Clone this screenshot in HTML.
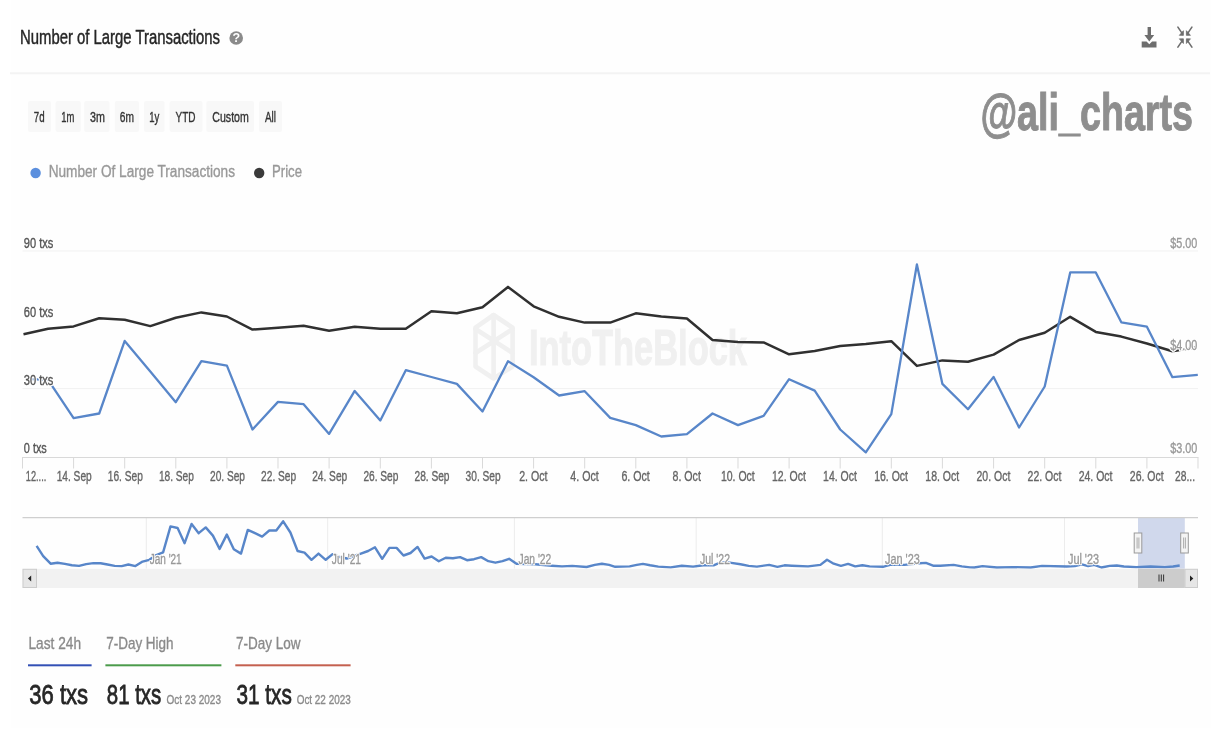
<!DOCTYPE html>
<html lang="en"><head><meta charset="utf-8"><title>Number of Large Transactions</title>
<style>
html,body{margin:0;padding:0;background:#ffffff;}
body{width:1220px;height:740px;overflow:hidden;position:relative;font-family:"Liberation Sans",sans-serif;}
svg{position:absolute;left:0;top:0;display:block}
svg text{font-family:"Liberation Sans",sans-serif;white-space:pre}
</style></head><body>
<svg width="1220" height="740" viewBox="0 0 1220 740">
<rect x="11" y="0" width="1200" height="728" fill="#fefefe"/>
<g id="header">
<rect x="10" y="72.300" width="1200" height="2" fill="#f3f3f3"/>
<circle cx="236.2" cy="38" r="6.8" fill="#8a8a8a"/>
</g>
<g id="icons" fill="#6e6e6e" stroke="none">
<path d="M1147.6 27h3.4v8h3.2l-4.9 6.6-4.9-6.600h3.200z"/>
<path d="M1141.700 41.400h4.800l2.800 2.800 2.800-2.800h4.400v6h-14.800z"/>
</g>
<g id="compress" stroke="#6e6e6e" stroke-width="1.6" fill="#6e6e6e" stroke-linecap="round">
<path d="M1177.90 27.10L1182.30 33.60" fill="none"/>
<path d="M1183.40 35.10L1183.40 30.70L1179.60 35.10Z" stroke-width="0.8" stroke-linejoin="round"/>
<path d="M1191.90 27.10L1187.50 33.60" fill="none"/>
<path d="M1186.40 35.10L1186.40 30.70L1190.20 35.10Z" stroke-width="0.8" stroke-linejoin="round"/>
<path d="M1177.90 47.10L1182.30 40.60" fill="none"/>
<path d="M1183.40 39.10L1183.40 43.50L1179.60 39.10Z" stroke-width="0.8" stroke-linejoin="round"/>
<path d="M1191.90 47.10L1187.50 40.60" fill="none"/>
<path d="M1186.40 39.10L1186.40 43.50L1190.20 39.10Z" stroke-width="0.8" stroke-linejoin="round"/>
</g>
<g id="ranges" fill="#f8f8f8">
<rect x="28" y="101" width="23.0" height="31" rx="2"/>
<rect x="55.6" y="101" width="25.2" height="31" rx="2"/>
<rect x="84.2" y="101" width="25.3" height="31" rx="2"/>
<rect x="114.8" y="101" width="24.2" height="31" rx="2"/>
<rect x="144" y="101" width="20.6" height="31" rx="2"/>
<rect x="169.6" y="101" width="32.9" height="31" rx="2"/>
<rect x="206.3" y="101" width="47.7" height="31" rx="2"/>
<rect x="259" y="101" width="23.0" height="31" rx="2"/>
</g>
<g id="legend"><circle cx="35.6" cy="173" r="5.2" fill="#5b8fde"/><circle cx="259.2" cy="173" r="5.2" fill="#3a3a3a"/></g>
<g id="grid" stroke="#f1f1f1" stroke-width="1">
<path d="M22.5 251.0H1198"/>
<path d="M22.5 388.6H1198"/>
</g>
<g id="itb" fill="none" stroke="#f0f0f0" stroke-width="4.6" stroke-linejoin="round" stroke-linecap="round">
<path d="M493.600 315L512.600 327.600V366.500L493.600 378.500L475.500 366.500V327.600Z"/>
<path d="M493.600 315V376M475.500 329L512.600 353M512.600 329L475.500 353"/>
</g>
<text x="529" y="365" font-size="50" fill="#f0f0f0" text-anchor="start" font-weight="700" textLength="218" lengthAdjust="spacingAndGlyphs" stroke="#f0f0f0" stroke-width="1.2">IntoTheBlock</text>
<g id="xaxis" stroke="#d9d9d9" stroke-width="1" fill="none">
<path d="M22 457.500H1198.500"/>
<path d="M22.5 457.500V468.500"/>
<path d="M73.6 457.500V468.500"/>
<path d="M124.7 457.500V468.500"/>
<path d="M175.8 457.500V468.500"/>
<path d="M226.9 457.500V468.500"/>
<path d="M278.0 457.500V468.500"/>
<path d="M329.1 457.500V468.500"/>
<path d="M380.3 457.500V468.500"/>
<path d="M431.4 457.500V468.500"/>
<path d="M482.5 457.500V468.500"/>
<path d="M533.6 457.500V468.500"/>
<path d="M584.7 457.500V468.500"/>
<path d="M635.8 457.500V468.500"/>
<path d="M686.9 457.500V468.500"/>
<path d="M738.0 457.500V468.500"/>
<path d="M789.1 457.500V468.500"/>
<path d="M840.2 457.500V468.500"/>
<path d="M891.3 457.500V468.500"/>
<path d="M942.4 457.500V468.500"/>
<path d="M993.6 457.500V468.500"/>
<path d="M1044.7 457.500V468.500"/>
<path d="M1095.8 457.500V468.500"/>
<path d="M1146.9 457.500V468.500"/>
<path d="M1198.0 457.500V468.500"/>
</g>
<path id="price" d="M23.5 334.2 L48.1 328.7 L73.6 326.4 L99.2 318.3 L124.7 319.7 L150.3 326.1 L175.8 317.7 L201.4 312.4 L226.9 316.5 L252.5 329.6 L278.0 327.8 L303.6 325.8 L329.1 330.7 L354.7 326.7 L380.3 328.7 L405.8 328.7 L431.4 311.3 L456.9 313.3 L482.5 307.2 L508.0 286.9 L533.6 306.3 L559.1 316.8 L584.7 322.6 L610.2 322.6 L635.8 313.3 L661.3 316.5 L686.9 318.5 L712.5 340.0 L738.0 342.1 L763.6 342.4 L789.1 354.3 L814.7 351.1 L840.2 346.1 L865.8 344.1 L891.3 341.2 L916.9 365.9 L942.4 360.4 L968.0 361.8 L993.6 354.6 L1019.1 340.0 L1044.7 332.8 L1070.2 316.8 L1095.8 331.9 L1121.3 336.6 L1146.9 343.5 L1172.4 351.3 L1195.0 347.5" fill="none" stroke="#303030" stroke-width="2.5" stroke-linejoin="round" stroke-linecap="butt"/>
<path id="txs" d="M25.5 378.8 L48.1 379.8 L73.6 418.2 L99.2 413.5 L124.7 340.9 L150.3 371.4 L175.8 402.2 L201.4 361.2 L226.9 365.6 L252.5 429.5 L278.0 401.9 L303.6 404.2 L329.1 433.9 L354.7 390.9 L380.3 420.5 L405.8 370.2 L431.4 377.0 L456.9 383.9 L482.5 411.5 L508.0 361.2 L533.6 377.2 L559.1 395.5 L584.7 391.2 L610.2 417.9 L635.8 425.1 L661.3 436.5 L686.9 434.1 L712.5 413.5 L738.0 425.1 L763.6 415.8 L789.1 379.2 L814.7 390.6 L840.2 429.5 L865.8 452.4 L891.3 414.1 L916.9 264.5 L942.4 383.9 L968.0 409.2 L993.6 376.9 L1019.1 427.5 L1044.7 386.5 L1070.2 272.4 L1095.8 272.4 L1121.3 322.3 L1146.9 326.7 L1172.4 377.2 L1197.8 374.9" fill="none" stroke="#5886c9" stroke-width="2.3" stroke-linejoin="round" stroke-linecap="butt"/>
<g id="navigator">
<rect x="1138" y="517.500" width="46.800" height="51.300" fill="#d0d8ec"/>
<g stroke="#ececec" stroke-width="1">
<path d="M146.3 518V568.500"/>
<path d="M327.7 518V568.500"/>
<path d="M514.4 518V568.500"/>
<path d="M696.2 518V568.500"/>
<path d="M882.3 518V568.500"/>
<path d="M1064.5 518V568.500"/>
</g>
<path d="M22.500 517.600H1198" stroke="#cfcfcf" stroke-width="1.2"/>
<path d="M36.6 545.9 L43.2 556.1 L50.6 563.7 L57.5 562.7 L64.9 563.9 L71.9 565.3 L79.1 565.9 L86.2 564.1 L93.4 563.1 L100.6 563.3 L107.5 564.5 L114.7 565.9 L121.7 566.1 L128.4 564.5 L135.4 566.1 L142.6 561.6 L149.3 559.8 L156.3 555.1 L163.1 552.4 L170.5 526.4 L177.6 528.0 L184.6 543.2 L191.6 523.9 L198.7 533.2 L205.7 527.4 L212.9 535.6 L219.6 548.9 L226.8 534.6 L233.8 549.3 L241.0 553.6 L247.8 529.9 L255.0 533.2 L262.1 536.6 L269.3 530.5 L276.3 530.5 L283.2 521.3 L290.4 532.5 L297.6 551.0 L304.5 552.6 L311.5 559.8 L318.5 553.6 L325.7 559.8 L332.6 554.1 L339.7 557.0 L346.8 558.5 L353.9 556.0 L360.9 553.6 L368.1 551.0 L375.0 547.3 L382.2 558.8 L389.4 547.9 L396.6 547.9 L403.5 555.5 L410.5 553.0 L417.5 546.9 L424.6 558.6 L431.6 556.5 L438.8 561.2 L445.7 557.7 L452.9 558.2 L460.1 557.1 L467.0 560.2 L474.0 559.2 L481.2 557.1 L488.4 561.2 L495.4 562.7 L502.5 561.2 L509.1 558.8 L516.5 563.7 L526.1 564.1 L535.3 564.3 L551.7 565.7 L562.0 566.4 L572.2 565.9 L586.6 567.0 L594.8 564.9 L601.9 563.7 L609.1 564.9 L615.2 566.8 L629.6 566.4 L636.8 564.9 L642.9 563.9 L650.1 565.3 L658.3 566.6 L670.6 567.4 L681.8 565.7 L693.1 566.6 L703.4 565.3 L713.6 565.3 L717.7 563.7 L725.9 562.0 L731.3 562.9 L740.5 564.3 L748.7 565.9 L756.9 566.6 L769.2 564.9 L777.4 566.8 L784.5 565.3 L791.7 565.7 L808.1 566.4 L820.4 564.9 L827.0 559.8 L833.7 563.7 L840.9 565.9 L848.1 563.9 L855.2 566.4 L862.4 565.3 L869.6 566.4 L882.9 566.8 L890.1 564.9 L904.4 564.9 L919.8 563.3 L925.9 562.9 L933.1 565.7 L940.3 565.7 L953.6 564.9 L961.8 566.4 L970.0 567.4 L974.3 567.5 L982.5 566.1 L996.9 567.5 L1013.3 567.1 L1030.7 567.5 L1042.0 565.9 L1066.6 566.5 L1074.8 566.1 L1081.9 564.4 L1088.1 566.1 L1094.2 564.8 L1101.4 567.5 L1109.6 565.9 L1116.8 565.5 L1123.9 566.5 L1136.2 567.1 L1150.6 566.5 L1164.9 567.1 L1173.1 566.5 L1179.7 565.5" fill="none" stroke="#5886c9" stroke-width="2.4" stroke-linejoin="round"/>
<rect x="22.500" y="568.800" width="1175.500" height="19.200" fill="#f2f2f2"/>
<rect x="23" y="569.300" width="13.500" height="18.200" fill="#e6e6e6" stroke="#ccc" stroke-width="1"/>
<path d="M31.200 575.400V581.600L27.900 578.500Z" fill="#222"/>
<rect x="1138" y="568.800" width="46.800" height="19.200" fill="#cccccc"/>
<path d="M1159 574.500V581.500M1161.300 574.500V581.500M1163.600 574.500V581.500" stroke="#333" stroke-width="1"/>
<rect x="1185" y="569.300" width="12.500" height="18.200" fill="#e6e6e6" stroke="#ccc" stroke-width="1"/>
<path d="M1190 575.400V581.600L1193.300 578.500Z" fill="#222"/>
<rect x="1134.2" y="533" width="7.600" height="20" fill="#f4f4f4" stroke="#999" stroke-width="1"/>
<path d="M1137.1 537.500V548.500M1138.9 537.500V548.500" stroke="#999" stroke-width="0.8"/>
<rect x="1180.7" y="533" width="7.600" height="20" fill="#f4f4f4" stroke="#999" stroke-width="1"/>
<path d="M1183.6 537.500V548.500M1185.4 537.500V548.500" stroke="#999" stroke-width="0.8"/>
</g>
<g id="stats">
<rect x="28" y="664.300" width="63.600" height="2" fill="#3350b5"/>
<rect x="105.400" y="664.300" width="116" height="2" fill="#4b9b4b"/>
<rect x="235.300" y="664.300" width="115.300" height="2" fill="#c4604f"/>
</g>
<text x="20" y="43.8" font-size="19.5" fill="#262626" text-anchor="start" font-weight="400" textLength="200" lengthAdjust="spacingAndGlyphs" stroke="#262626" stroke-width="0.45">Number of Large Transactions</text>
<text x="236.2" y="42.4" font-size="12.5" fill="#fff" text-anchor="middle" font-weight="700">?</text>
<text x="980.4" y="129.5" font-size="52" fill="#8e8e8e" text-anchor="start" font-weight="700" textLength="212.6" lengthAdjust="spacingAndGlyphs" stroke="#8e8e8e" stroke-width="1.0">@ali_charts</text>
<text x="33.8" y="122.1" font-size="14" fill="#333" text-anchor="start" font-weight="400" textLength="10.8" lengthAdjust="spacingAndGlyphs" stroke="#333" stroke-width="0.35">7d</text>
<text x="61.3" y="122.1" font-size="14" fill="#333" text-anchor="start" font-weight="400" textLength="13.1" lengthAdjust="spacingAndGlyphs" stroke="#333" stroke-width="0.35">1m</text>
<text x="90" y="122.1" font-size="14" fill="#333" text-anchor="start" font-weight="400" textLength="14.9" lengthAdjust="spacingAndGlyphs" stroke="#333" stroke-width="0.35">3m</text>
<text x="119.8" y="122.1" font-size="14" fill="#333" text-anchor="start" font-weight="400" textLength="14.2" lengthAdjust="spacingAndGlyphs" stroke="#333" stroke-width="0.35">6m</text>
<text x="149.2" y="122.1" font-size="14" fill="#333" text-anchor="start" font-weight="400" textLength="10.1" lengthAdjust="spacingAndGlyphs" stroke="#333" stroke-width="0.35">1y</text>
<text x="175.6" y="122.1" font-size="14" fill="#333" text-anchor="start" font-weight="400" textLength="20.0" lengthAdjust="spacingAndGlyphs" stroke="#333" stroke-width="0.35">YTD</text>
<text x="212.3" y="122.1" font-size="14" fill="#333" text-anchor="start" font-weight="400" textLength="36.5" lengthAdjust="spacingAndGlyphs" stroke="#333" stroke-width="0.35">Custom</text>
<text x="264.9" y="122.1" font-size="14" fill="#333" text-anchor="start" font-weight="400" textLength="11.0" lengthAdjust="spacingAndGlyphs" stroke="#333" stroke-width="0.35">All</text>
<text x="48.7" y="177.2" font-size="16" fill="#999" text-anchor="start" font-weight="400" textLength="186.3" lengthAdjust="spacingAndGlyphs" stroke="#999" stroke-width="0.35">Number Of Large Transactions</text>
<text x="272" y="177.2" font-size="16" fill="#999" text-anchor="start" font-weight="400" textLength="30" lengthAdjust="spacingAndGlyphs" stroke="#999" stroke-width="0.35">Price</text>
<text x="25.8" y="481.3" font-size="14" fill="#666" text-anchor="start" font-weight="400" textLength="20.5" lengthAdjust="spacingAndGlyphs" stroke="#666" stroke-width="0.35">12....</text>
<text x="74.2" y="481.3" font-size="14" fill="#666" text-anchor="middle" font-weight="400" textLength="35" lengthAdjust="spacingAndGlyphs" stroke="#666" stroke-width="0.35">14. Sep</text>
<text x="125.3" y="481.3" font-size="14" fill="#666" text-anchor="middle" font-weight="400" textLength="35" lengthAdjust="spacingAndGlyphs" stroke="#666" stroke-width="0.35">16. Sep</text>
<text x="176.4" y="481.3" font-size="14" fill="#666" text-anchor="middle" font-weight="400" textLength="35" lengthAdjust="spacingAndGlyphs" stroke="#666" stroke-width="0.35">18. Sep</text>
<text x="227.5" y="481.3" font-size="14" fill="#666" text-anchor="middle" font-weight="400" textLength="35" lengthAdjust="spacingAndGlyphs" stroke="#666" stroke-width="0.35">20. Sep</text>
<text x="278.6" y="481.3" font-size="14" fill="#666" text-anchor="middle" font-weight="400" textLength="35" lengthAdjust="spacingAndGlyphs" stroke="#666" stroke-width="0.35">22. Sep</text>
<text x="329.7" y="481.3" font-size="14" fill="#666" text-anchor="middle" font-weight="400" textLength="35" lengthAdjust="spacingAndGlyphs" stroke="#666" stroke-width="0.35">24. Sep</text>
<text x="380.9" y="481.3" font-size="14" fill="#666" text-anchor="middle" font-weight="400" textLength="35" lengthAdjust="spacingAndGlyphs" stroke="#666" stroke-width="0.35">26. Sep</text>
<text x="432.0" y="481.3" font-size="14" fill="#666" text-anchor="middle" font-weight="400" textLength="35" lengthAdjust="spacingAndGlyphs" stroke="#666" stroke-width="0.35">28. Sep</text>
<text x="483.1" y="481.3" font-size="14" fill="#666" text-anchor="middle" font-weight="400" textLength="35" lengthAdjust="spacingAndGlyphs" stroke="#666" stroke-width="0.35">30. Sep</text>
<text x="533.4" y="481.3" font-size="14" fill="#666" text-anchor="middle" font-weight="400" textLength="28.4" lengthAdjust="spacingAndGlyphs" stroke="#666" stroke-width="0.35">2. Oct</text>
<text x="584.5" y="481.3" font-size="14" fill="#666" text-anchor="middle" font-weight="400" textLength="28.4" lengthAdjust="spacingAndGlyphs" stroke="#666" stroke-width="0.35">4. Oct</text>
<text x="635.6" y="481.3" font-size="14" fill="#666" text-anchor="middle" font-weight="400" textLength="28.4" lengthAdjust="spacingAndGlyphs" stroke="#666" stroke-width="0.35">6. Oct</text>
<text x="686.7" y="481.3" font-size="14" fill="#666" text-anchor="middle" font-weight="400" textLength="28.4" lengthAdjust="spacingAndGlyphs" stroke="#666" stroke-width="0.35">8. Oct</text>
<text x="737.8" y="481.3" font-size="14" fill="#666" text-anchor="middle" font-weight="400" textLength="33.8" lengthAdjust="spacingAndGlyphs" stroke="#666" stroke-width="0.35">10. Oct</text>
<text x="788.9" y="481.3" font-size="14" fill="#666" text-anchor="middle" font-weight="400" textLength="33.8" lengthAdjust="spacingAndGlyphs" stroke="#666" stroke-width="0.35">12. Oct</text>
<text x="840.0" y="481.3" font-size="14" fill="#666" text-anchor="middle" font-weight="400" textLength="33.8" lengthAdjust="spacingAndGlyphs" stroke="#666" stroke-width="0.35">14. Oct</text>
<text x="891.1" y="481.3" font-size="14" fill="#666" text-anchor="middle" font-weight="400" textLength="33.8" lengthAdjust="spacingAndGlyphs" stroke="#666" stroke-width="0.35">16. Oct</text>
<text x="942.2" y="481.3" font-size="14" fill="#666" text-anchor="middle" font-weight="400" textLength="33.8" lengthAdjust="spacingAndGlyphs" stroke="#666" stroke-width="0.35">18. Oct</text>
<text x="993.4" y="481.3" font-size="14" fill="#666" text-anchor="middle" font-weight="400" textLength="33.8" lengthAdjust="spacingAndGlyphs" stroke="#666" stroke-width="0.35">20. Oct</text>
<text x="1044.5" y="481.3" font-size="14" fill="#666" text-anchor="middle" font-weight="400" textLength="33.8" lengthAdjust="spacingAndGlyphs" stroke="#666" stroke-width="0.35">22. Oct</text>
<text x="1095.6" y="481.3" font-size="14" fill="#666" text-anchor="middle" font-weight="400" textLength="33.8" lengthAdjust="spacingAndGlyphs" stroke="#666" stroke-width="0.35">24. Oct</text>
<text x="1146.7" y="481.3" font-size="14" fill="#666" text-anchor="middle" font-weight="400" textLength="33.8" lengthAdjust="spacingAndGlyphs" stroke="#666" stroke-width="0.35">26. Oct</text>
<text x="1175" y="481.3" font-size="14" fill="#666" text-anchor="start" font-weight="400" textLength="20" lengthAdjust="spacingAndGlyphs" stroke="#666" stroke-width="0.35">28...</text>
<text x="23.8" y="247.5" font-size="14" fill="#fff" text-anchor="start" font-weight="400" textLength="29.5" lengthAdjust="spacingAndGlyphs" stroke="#fff" stroke-width="3" stroke-linejoin="round" aria-hidden="true">90 txs</text>
<text x="23.8" y="247.5" font-size="14" fill="#555" text-anchor="start" font-weight="400" textLength="29.5" lengthAdjust="spacingAndGlyphs" stroke="#555" stroke-width="0.35">90 txs</text>
<text x="23.8" y="316.5" font-size="14" fill="#fff" text-anchor="start" font-weight="400" textLength="29.5" lengthAdjust="spacingAndGlyphs" stroke="#fff" stroke-width="3" stroke-linejoin="round" aria-hidden="true">60 txs</text>
<text x="23.8" y="316.5" font-size="14" fill="#555" text-anchor="start" font-weight="400" textLength="29.5" lengthAdjust="spacingAndGlyphs" stroke="#555" stroke-width="0.35">60 txs</text>
<text x="23.8" y="384.6" font-size="14" fill="#fff" text-anchor="start" font-weight="400" textLength="29.5" lengthAdjust="spacingAndGlyphs" stroke="#fff" stroke-width="3" stroke-linejoin="round" aria-hidden="true">30 txs</text>
<text x="23.8" y="384.6" font-size="14" fill="#555" text-anchor="start" font-weight="400" textLength="29.5" lengthAdjust="spacingAndGlyphs" stroke="#555" stroke-width="0.35">30 txs</text>
<text x="23.8" y="453.3" font-size="14" fill="#fff" text-anchor="start" font-weight="400" textLength="23" lengthAdjust="spacingAndGlyphs" stroke="#fff" stroke-width="3" stroke-linejoin="round" aria-hidden="true">0 txs</text>
<text x="23.8" y="453.3" font-size="14" fill="#555" text-anchor="start" font-weight="400" textLength="23" lengthAdjust="spacingAndGlyphs" stroke="#555" stroke-width="0.35">0 txs</text>
<text x="1170.3" y="247.5" font-size="14" fill="#fff" text-anchor="start" font-weight="400" textLength="27" lengthAdjust="spacingAndGlyphs" stroke="#fff" stroke-width="3" stroke-linejoin="round" aria-hidden="true">$5.00</text>
<text x="1170.3" y="247.5" font-size="14" fill="#999" text-anchor="start" font-weight="400" textLength="27" lengthAdjust="spacingAndGlyphs" stroke="#999" stroke-width="0.35">$5.00</text>
<text x="1170.3" y="350.2" font-size="14" fill="#fff" text-anchor="start" font-weight="400" textLength="27" lengthAdjust="spacingAndGlyphs" stroke="#fff" stroke-width="3" stroke-linejoin="round" aria-hidden="true">$4.00</text>
<text x="1170.3" y="350.2" font-size="14" fill="#999" text-anchor="start" font-weight="400" textLength="27" lengthAdjust="spacingAndGlyphs" stroke="#999" stroke-width="0.35">$4.00</text>
<text x="1170.3" y="453.2" font-size="14" fill="#fff" text-anchor="start" font-weight="400" textLength="27" lengthAdjust="spacingAndGlyphs" stroke="#fff" stroke-width="3" stroke-linejoin="round" aria-hidden="true">$3.00</text>
<text x="1170.3" y="453.2" font-size="14" fill="#999" text-anchor="start" font-weight="400" textLength="27" lengthAdjust="spacingAndGlyphs" stroke="#999" stroke-width="0.35">$3.00</text>
<text x="149.7" y="563.6" font-size="14" fill="#fff" text-anchor="start" font-weight="400" textLength="32" lengthAdjust="spacingAndGlyphs" stroke="#fff" stroke-width="2.4" stroke-linejoin="round" aria-hidden="true">Jan '21</text>
<text x="149.7" y="563.6" font-size="14" fill="#999" text-anchor="start" font-weight="400" textLength="32" lengthAdjust="spacingAndGlyphs" stroke="#999" stroke-width="0.35">Jan '21</text>
<text x="331.8" y="563.6" font-size="14" fill="#fff" text-anchor="start" font-weight="400" textLength="29.2" lengthAdjust="spacingAndGlyphs" stroke="#fff" stroke-width="2.4" stroke-linejoin="round" aria-hidden="true">Jul '21</text>
<text x="331.8" y="563.6" font-size="14" fill="#999" text-anchor="start" font-weight="400" textLength="29.2" lengthAdjust="spacingAndGlyphs" stroke="#999" stroke-width="0.35">Jul '21</text>
<text x="518.5" y="563.6" font-size="14" fill="#fff" text-anchor="start" font-weight="400" textLength="32.8" lengthAdjust="spacingAndGlyphs" stroke="#fff" stroke-width="2.4" stroke-linejoin="round" aria-hidden="true">Jan '22</text>
<text x="518.5" y="563.6" font-size="14" fill="#999" text-anchor="start" font-weight="400" textLength="32.8" lengthAdjust="spacingAndGlyphs" stroke="#999" stroke-width="0.35">Jan '22</text>
<text x="700" y="563.6" font-size="14" fill="#fff" text-anchor="start" font-weight="400" textLength="30" lengthAdjust="spacingAndGlyphs" stroke="#fff" stroke-width="2.4" stroke-linejoin="round" aria-hidden="true">Jul '22</text>
<text x="700" y="563.6" font-size="14" fill="#999" text-anchor="start" font-weight="400" textLength="30" lengthAdjust="spacingAndGlyphs" stroke="#999" stroke-width="0.35">Jul '22</text>
<text x="885" y="563.6" font-size="14" fill="#fff" text-anchor="start" font-weight="400" textLength="34.8" lengthAdjust="spacingAndGlyphs" stroke="#fff" stroke-width="2.4" stroke-linejoin="round" aria-hidden="true">Jan '23</text>
<text x="885" y="563.6" font-size="14" fill="#999" text-anchor="start" font-weight="400" textLength="34.8" lengthAdjust="spacingAndGlyphs" stroke="#999" stroke-width="0.35">Jan '23</text>
<text x="1068" y="563.6" font-size="14" fill="#fff" text-anchor="start" font-weight="400" textLength="31" lengthAdjust="spacingAndGlyphs" stroke="#fff" stroke-width="2.4" stroke-linejoin="round" aria-hidden="true">Jul '23</text>
<text x="1068" y="563.6" font-size="14" fill="#999" text-anchor="start" font-weight="400" textLength="31" lengthAdjust="spacingAndGlyphs" stroke="#999" stroke-width="0.35">Jul '23</text>
<text x="28.5" y="649.2" font-size="17" fill="#8a8a8a" text-anchor="start" font-weight="400" textLength="52.5" lengthAdjust="spacingAndGlyphs" stroke="#8a8a8a" stroke-width="0.35">Last 24h</text>
<text x="106.2" y="649.2" font-size="17" fill="#8a8a8a" text-anchor="start" font-weight="400" textLength="67.4" lengthAdjust="spacingAndGlyphs" stroke="#8a8a8a" stroke-width="0.35">7-Day High</text>
<text x="235.9" y="649.2" font-size="17" fill="#8a8a8a" text-anchor="start" font-weight="400" textLength="64.5" lengthAdjust="spacingAndGlyphs" stroke="#8a8a8a" stroke-width="0.35">7-Day Low</text>
<text x="29.3" y="704" font-size="28" fill="#262626" text-anchor="start" font-weight="400" textLength="58.8" lengthAdjust="spacingAndGlyphs" stroke="#262626" stroke-width="0.8">36 txs</text>
<text x="106.8" y="704" font-size="28" fill="#262626" text-anchor="start" font-weight="400" textLength="54.5" lengthAdjust="spacingAndGlyphs" stroke="#262626" stroke-width="0.8">81 txs</text>
<text x="236.5" y="704" font-size="28" fill="#262626" text-anchor="start" font-weight="400" textLength="55.3" lengthAdjust="spacingAndGlyphs" stroke="#262626" stroke-width="0.8">31 txs</text>
<text x="166.5" y="704" font-size="12" fill="#8a8a8a" text-anchor="start" font-weight="400" textLength="54.5" lengthAdjust="spacingAndGlyphs" stroke="#8a8a8a" stroke-width="0.35">Oct 23 2023</text>
<text x="296.7" y="704" font-size="12" fill="#8a8a8a" text-anchor="start" font-weight="400" textLength="54" lengthAdjust="spacingAndGlyphs" stroke="#8a8a8a" stroke-width="0.35">Oct 22 2023</text>
</svg></body></html>
